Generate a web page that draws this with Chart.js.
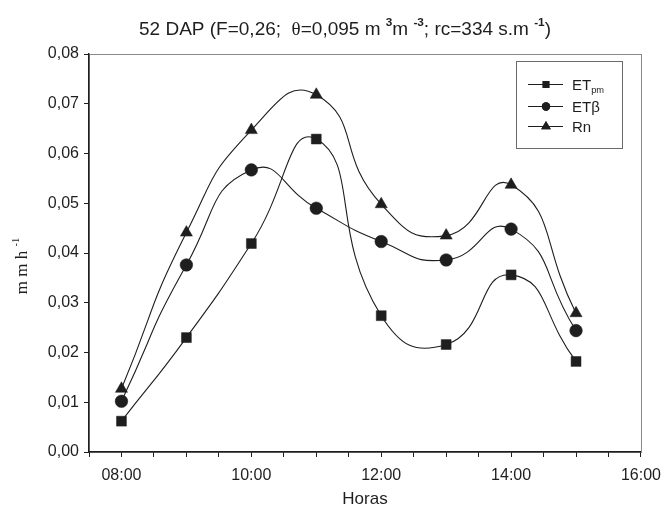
<!DOCTYPE html>
<html>
<head>
<meta charset="utf-8">
<script src="https://cdn.jsdelivr.net/npm/chart.js@4.4.1/dist/chart.umd.min.js"></script>
<style>
html,body{margin:0;padding:0;background:#fff;}
#wrap{width:670px;height:516px;}
</style>
</head>
<body>
<div id="wrap"><canvas id="chart" width="670" height="516"></canvas></div>
<script>
// values (mm/h per hour of day)
const hours = [8, 9, 10, 11, 12, 13, 14, 15];
const etPm = [0.0062, 0.0230, 0.0419, 0.0629, 0.0274, 0.0216, 0.0356, 0.0182];
const etBeta = [0.0102, 0.0376, 0.0567, 0.0490, 0.0423, 0.0386, 0.0448, 0.0244];
const rn = [0.0127, 0.0441, 0.0647, 0.0718, 0.0498, 0.0435, 0.0537, 0.0279];
const xLabelHours = [8, 10, 12, 14, 16];
const seriesNames = ['ET', 'ET\u03b2', 'Rn'];
const seriesSubs = ['pm', '', ''];

const ink = '#1e1e1e';
const sans = '"Liberation Sans", Arial, sans-serif';
const serif = '"Liberation Serif", "Times New Roman", serif';

function pts(arr){ return hours.map((h, i) => ({x: h, y: arr[i]})); }

// draws a run of text parts, some of them raised (sup) or lowered (sub)
function richWidth(ctx, parts, size, family){
  let w = 0;
  for(const p of parts){
    const s = p.sup || p.sub ? size * 0.62 : size;
    ctx.font = (p.bold ? 'bold ' : '') + s + 'px ' + (p.family || family);
    w += ctx.measureText(p.text).width;
  }
  return w;
}
function richText(ctx, parts, x, y, size, family){
  for(const p of parts){
    const s = p.sup || p.sub ? size * 0.62 : size;
    ctx.font = (p.bold ? 'bold ' : '') + s + 'px ' + (p.family || family);
    let dy = 0;
    if(p.sup) dy = -size * 0.5;
    if(p.sub) dy = size * 0.2;
    ctx.fillText(p.text, x, y + dy);
    x += ctx.measureText(p.text).width;
  }
}

const titleParts = [
  {text: '52 DAP (F=0,26;  '},
  {text: '\u03b8', family: serif},
  {text: '=0,095 m '},
  {text: '3', sup: true, bold: true},
  {text: 'm '},
  {text: '-3', sup: true, bold: true},
  {text: '; rc=334 s.m '},
  {text: '-1', sup: true, bold: true},
  {text: ')'}
];
const yTitleParts = [
  {text: 'm m h '},
  {text: '-1', sup: true}
];

const decorPlugin = {
  id: 'decor',
  beforeDraw(chart){
    const {ctx, chartArea: a} = chart;
    ctx.save();
    ctx.strokeStyle = '#8a8a8a';
    ctx.lineWidth = 1;
    ctx.strokeRect(a.left + 0.5, a.top + 0.5, a.right - a.left, a.bottom - a.top);
    ctx.restore();
  },
  afterDraw(chart){
    const ctx = chart.ctx;
    ctx.save();
    ctx.fillStyle = ink;
    ctx.textBaseline = 'alphabetic';
    // title
    const tw = richWidth(ctx, titleParts, 19, sans);
    richText(ctx, titleParts, 345 - tw / 2, 35, 19, sans);
    // y axis title, rotated
    ctx.save();
    ctx.translate(27, 266);
    ctx.rotate(-Math.PI / 2);
    const yw = richWidth(ctx, yTitleParts, 17, serif);
    richText(ctx, yTitleParts, -yw / 2, 0, 17, serif);
    ctx.restore();

    // legend box
    const bx = 516, by = 61, bw = 106, bh = 87;
    ctx.strokeStyle = '#6a6a6a';
    ctx.lineWidth = 1;
    ctx.strokeRect(bx + 0.5, by + 0.5, bw, bh);
    const rows = [84, 106, 126];
    chart.data.datasets.forEach((ds, i) => {
      const y = rows[i];
      ctx.strokeStyle = ink;
      ctx.lineWidth = 1.1;
      ctx.beginPath();
      ctx.moveTo(528, y + 0.5);
      ctx.lineTo(563, y + 0.5);
      ctx.stroke();
      Chart.helpers.drawPoint(ctx, {
        pointStyle: ds.pointStyle,
        radius: [4.8, 4.2, 5.6][i],
        rotation: 0,
        borderWidth: 0
      }, 546, y + 0.5);
      ctx.fillStyle = ink;
      ctx.fill();
      const parts = [{text: seriesNames[i]}];
      if(seriesSubs[i]) parts.push({text: seriesSubs[i], sub: true});
      richText(ctx, parts, 572, y + 5.5, 15, sans);
    });
    ctx.restore();
  }
};

const common = {
  borderColor: ink,
  backgroundColor: ink,
  pointBackgroundColor: ink,
  pointBorderColor: ink,
  pointBorderWidth: 0.5,
  borderWidth: 1.1,
  tension: 0.55,
  fill: false
};

new Chart(document.getElementById('chart'), {
  type: 'line',
  data: {
    datasets: [
      Object.assign({label: 'ETpm', data: pts(etPm), pointStyle: 'rect', pointRadius: 7}, common),
      Object.assign({label: 'ET\u03b2', data: pts(etBeta), pointStyle: 'circle', pointRadius: 6.3}, common),
      Object.assign({label: 'Rn', data: pts(rn), pointStyle: 'triangle', pointRadius: 7}, common)
    ]
  },
  options: {
    responsive: false,
    devicePixelRatio: 1,
    animation: false,
    layout: {padding: {top: 54, right: 29, left: 0, bottom: 0}},
    plugins: {legend: {display: false}, title: {display: false}, tooltip: {enabled: false}},
    scales: {
      x: {
        type: 'linear',
        min: 7.5,
        max: 16,
        afterFit(s){ s.height = 64; },
        border: {color: ink, width: 1.4},
        grid: {drawOnChartArea: false, drawTicks: true, tickLength: 5, color: ink, tickColor: ink},
        ticks: {
          stepSize: 0.5,
          autoSkip: false,
          maxRotation: 0,
          padding: 9,
          color: ink,
          font: {family: sans, size: 16},
          callback: v => xLabelHours.includes(v) ? String(v).padStart(2, '0') + ':00' : ''
        },
        title: {display: true, text: 'Horas', color: ink, font: {family: sans, size: 17}, padding: {top: 0, bottom: 6}}
      },
      y: {
        min: 0,
        max: 0.08,
        afterFit(s){ s.width = 89; },
        border: {color: ink, width: 1.4},
        grid: {drawOnChartArea: false, drawTicks: true, tickLength: 5, color: ink, tickColor: ink},
        ticks: {
          stepSize: 0.01,
          padding: 5,
          color: ink,
          font: {family: sans, size: 16},
          callback: v => v.toFixed(2).replace('.', ',')
        }
      }
    }
  },
  plugins: [decorPlugin]
});
</script>
</body>
</html>
